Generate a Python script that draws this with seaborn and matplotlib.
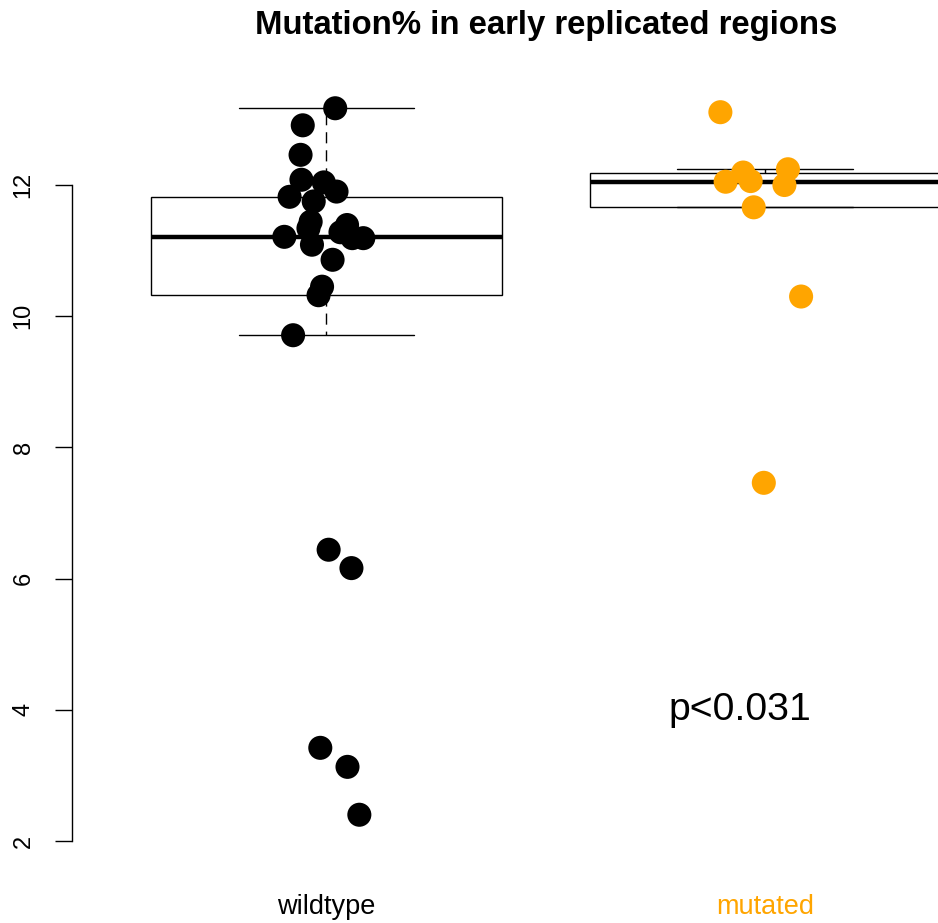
import numpy as np
import pandas as pd
import matplotlib
matplotlib.use("Agg")
import matplotlib.pyplot as plt
import seaborn as sns

# ---- data ----
groups = ["wildtype", "mutated"]
group_colors = ["#000000", "#FFA500"]

wildtype_values = [13.17, 12.91, 12.46, 12.08, 12.04, 11.90, 11.82, 11.75, 11.44, 11.34,
                   11.39, 11.28, 11.21, 11.09, 11.19, 11.19, 10.86, 10.45, 10.32, 9.71,
                   6.44, 6.16, 3.42, 3.13, 2.40]
wildtype_jitter = [0.020, -0.054, -0.059, -0.057, -0.006, 0.023, -0.084, -0.029, -0.036, -0.041,
                   0.047, 0.032, -0.096, -0.033, 0.059, 0.084, 0.014, -0.010, -0.018, -0.076,
                   0.005, 0.057, -0.014, 0.048, 0.075]

mutated_values = [13.11, 12.19, 12.24, 12.05, 12.06, 12.00, 11.66, 10.30, 7.46]
mutated_jitter = [-0.102, -0.050, 0.052, -0.090, -0.033, 0.044, -0.026, 0.082, -0.003]

y_ticks = [2, 4, 6, 8, 10, 12]
title = "Mutation% in early replicated regions"
p_text = "p<0.031"

df = pd.DataFrame({
    "group": ["wildtype"] * len(wildtype_values) + ["mutated"] * len(mutated_values),
    "value": wildtype_values + mutated_values,
    "jitter": wildtype_jitter + mutated_jitter,
})
df["xpos"] = df["group"].map({g: i for i, g in enumerate(groups)}) + df["jitter"]

sns.set_theme(style="white")
plt.rcParams["font.family"] = ["Liberation Sans", "DejaVu Sans"]
plt.rcParams["text.color"] = "black"
plt.rcParams["xtick.color"] = "black"
plt.rcParams["ytick.color"] = "black"

fig = plt.figure(figsize=(9.38, 9.23), dpi=100)
ax = fig.add_axes([0.07676, 0.0853, 1.0102, 0.8301])

sns.boxplot(data=df, x="group", y="value", order=groups, width=0.8,
            showfliers=False, whis=1.5, color="white", linecolor="black",
            linewidth=1.0, capwidths=0.4,
            boxprops={"facecolor": "white", "edgecolor": "black", "linewidth": 1.0},
            medianprops={"color": "black", "linewidth": 3.2},
            whiskerprops={"color": "black", "linewidth": 1.0, "linestyle": (0, (8, 5))},
            capprops={"color": "black", "linewidth": 1.0},
            ax=ax, zorder=1)

sns.scatterplot(data=df, x="xpos", y="value", hue="group", hue_order=groups,
                palette=group_colors, s=300, linewidth=0, legend=False, ax=ax, zorder=3)

ax.set_xlim(-0.58, 1.58)
ax.set_ylim(1.95, 13.63)
ax.set_xticks(range(len(groups)))
ax.set_xticklabels(groups, fontsize=19.5)
for lab, c in zip(ax.get_xticklabels(), group_colors):
    lab.set_color(c)
ax.tick_params(axis="x", length=0, pad=36)
ax.set_yticks(y_ticks)
ax.set_yticklabels([str(t) for t in y_ticks], rotation=90, va="center", fontsize=17,
                   color="black")
ax.tick_params(axis="y", length=12, width=1.0, color="black", pad=15, left=True)
ax.set_xlabel("")
ax.set_ylabel("")

for s in ["top", "right", "bottom"]:
    ax.spines[s].set_visible(False)
ax.spines["left"].set_bounds(y_ticks[0], y_ticks[-1])
ax.spines["left"].set_color("black")
ax.spines["left"].set_linewidth(1.0)

ax.set_title(title, fontsize=23.7, fontweight="bold", pad=32, color="black")
ax.text(0.943, 4.0, p_text, fontsize=28.3, ha="center", va="center", color="black")

fig.savefig("out.png", dpi=100)
